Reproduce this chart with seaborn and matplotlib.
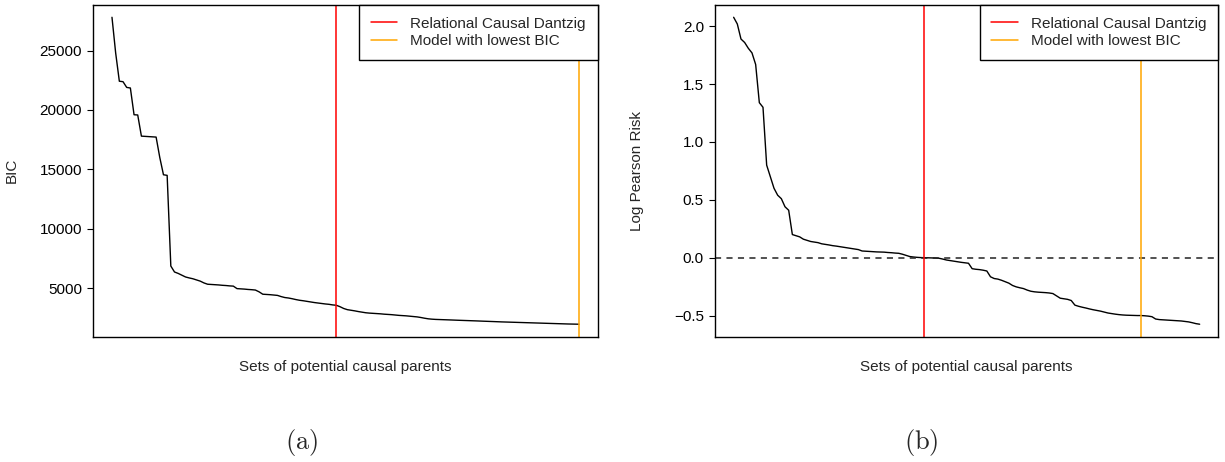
import numpy as np
import pandas as pd
import matplotlib
matplotlib.use("Agg")
import matplotlib.pyplot as plt
import seaborn as sns

# ---------------- data ----------------
bic_values = [
    27800, 24800, 22420, 22380, 21900, 21850, 19600, 19580, 17800, 17780,
    17760, 17740, 17720, 16000, 14550, 14500, 6870, 6370, 6250, 6100,
    5950, 5870, 5800, 5700, 5600, 5450, 5340, 5320, 5300, 5280,
    5250, 5230, 5200, 5180, 4970, 4950, 4930, 4900, 4880, 4850,
    4700, 4500, 4480, 4460, 4430, 4400, 4300, 4220, 4180, 4120,
    4050, 3990, 3950, 3900, 3850, 3800, 3760, 3714, 3680, 3650,
    3600, 3570, 3450, 3300, 3200, 3150, 3100, 3040, 2990, 2940,
    2910, 2890, 2870, 2850, 2820, 2800, 2780, 2750, 2720, 2700,
    2680, 2650, 2620, 2590, 2540, 2480, 2430, 2400, 2380, 2370,
    2360, 2345, 2335, 2320, 2310, 2300, 2290, 2280, 2270, 2255,
    2240, 2230, 2220, 2210, 2195, 2180, 2170, 2160, 2150, 2140,
    2125, 2115, 2105, 2100, 2090, 2080, 2070, 2060, 2050, 2040,
    2030, 2020, 2010, 2000, 1995, 1990, 1985, 1975,
]

log_pearson_risk = [
    2.078, 2.02, 1.89, 1.86, 1.81, 1.77, 1.67, 1.34, 1.30, 0.80,
    0.70, 0.60, 0.54, 0.51, 0.44, 0.41, 0.20, 0.19, 0.18, 0.16,
    0.15, 0.14, 0.135, 0.13, 0.12, 0.115, 0.11, 0.104, 0.10, 0.095,
    0.09, 0.085, 0.08, 0.075, 0.07, 0.058, 0.056, 0.054, 0.052, 0.05,
    0.049, 0.048, 0.045, 0.043, 0.04, 0.038, 0.03, 0.02, 0.01, 0.006,
    0.003, 0.001, 0.0, -0.001, -0.002, -0.003, -0.005, -0.012, -0.02, -0.025,
    -0.03, -0.035, -0.04, -0.044, -0.048, -0.095, -0.10, -0.103, -0.108, -0.115,
    -0.165, -0.18, -0.185, -0.195, -0.207, -0.22, -0.24, -0.252, -0.26, -0.267,
    -0.28, -0.29, -0.295, -0.298, -0.30, -0.302, -0.305, -0.31, -0.33, -0.35,
    -0.355, -0.36, -0.37, -0.41, -0.42, -0.428, -0.435, -0.443, -0.45, -0.456,
    -0.462, -0.47, -0.478, -0.483, -0.488, -0.492, -0.495, -0.497, -0.498, -0.499,
    -0.50, -0.50, -0.502, -0.505, -0.51, -0.53, -0.535, -0.537, -0.539, -0.541,
    -0.543, -0.545, -0.547, -0.551, -0.555, -0.562, -0.57, -0.575,
]

rcd_index_bic = 62
lowest_bic_index_bic = 128
rcd_index_risk = 53
lowest_bic_index_risk = 112

bic_ticks = [5000, 10000, 15000, 20000, 25000]
risk_ticks = [-0.5, 0.0, 0.5, 1.0, 1.5, 2.0]
legend_labels = ["Relational Causal Dantzig", "Model with lowest BIC"]
x_label = "Sets of potential causal parents"
y_labels = ["BIC", "Log Pearson Risk"]
panel_labels = ["(a)", "(b)"]

# ---------------- style ----------------
sns.set_style("white")
plt.rcParams["font.family"] = ["Liberation Sans", "DejaVu Sans"]
plt.rcParams["mathtext.fontset"] = "cm"
plt.rcParams["axes.unicode_minus"] = True

W, H = 1225, 462
fig = plt.figure(figsize=(W / 100, H / 100), dpi=100)

ax_positions = [
    [93.3 / W, 1 - 336.5 / H, (597.7 - 93.3) / W, (336.5 - 5) / H],
    [715.0 / W, 1 - 336.5 / H, (1218.3 - 715.0) / W, (336.5 - 5) / H],
]

series = [bic_values, log_pearson_risk]
rcd_idx = [rcd_index_bic, rcd_index_risk]
best_idx = [lowest_bic_index_bic, lowest_bic_index_risk]
ticks = [bic_ticks, risk_ticks]
ylabel_x = [-0.1487, -0.1407]
panel_x = [301.7 / W, 921.0 / W]

for k in range(2):
    ax = fig.add_axes(ax_positions[k])
    vals = series[k]
    n = len(vals)
    df = pd.DataFrame({"set": np.arange(1, n + 1), "value": vals})
    sns.lineplot(data=df, x="set", y="value", ax=ax, color="black",
                 linewidth=1.0, estimator=None)
    if k == 1:
        ax.axhline(0, color="#222222", linewidth=1.1, linestyle=(0, (4, 3.5)))
    ax.axvline(rcd_idx[k], color="red", linewidth=1.1, label=legend_labels[0])
    ax.axvline(best_idx[k], color="orange", linewidth=1.1, label=legend_labels[1])

    lo, hi = min(vals), max(vals)
    ypad = 0.04 * (hi - lo)
    ax.set_ylim(lo - ypad, hi + ypad)
    xpad = 0.04 * (n - 1)
    ax.set_xlim(1 - xpad, n + xpad)

    ax.set_xticks([])
    ax.set_yticks(ticks[k])
    if k == 0:
        ax.set_yticklabels([str(t) for t in ticks[k]])
    else:
        ax.set_yticklabels([f"{t:.1f}".replace("-", "\u2212") for t in ticks[k]])
    ax.tick_params(axis="y", which="major", left=True, length=4.5, width=0.8,
                   pad=3.5, labelsize=11, colors="black", direction="out")
    for sp in ax.spines.values():
        sp.set_visible(True)
        sp.set_color("black")
        sp.set_linewidth(1.0)

    ax.set_xlabel(x_label, fontsize=11)
    ax.xaxis.set_label_coords(0.5, -0.072)
    ax.set_ylabel(y_labels[k], fontsize=11)
    ax.yaxis.set_label_coords(ylabel_x[k], 0.5)

    leg = ax.legend(loc="upper right", bbox_to_anchor=(1.0, 1.0),
                    borderaxespad=0.0, fontsize=11, frameon=True,
                    fancybox=False, handlelength=1.75, handletextpad=0.85,
                    labelspacing=0.22, borderpad=0.77)
    leg.get_frame().set_edgecolor("black")
    leg.get_frame().set_linewidth(1.0)
    leg.get_frame().set_alpha(1.0)

    fig.text(panel_x[k], 1 - 443 / H, r"$\mathrm{" + panel_labels[k] + "}$",
             ha="center", va="center", fontsize=19)

fig.savefig("out.png", dpi=100)
